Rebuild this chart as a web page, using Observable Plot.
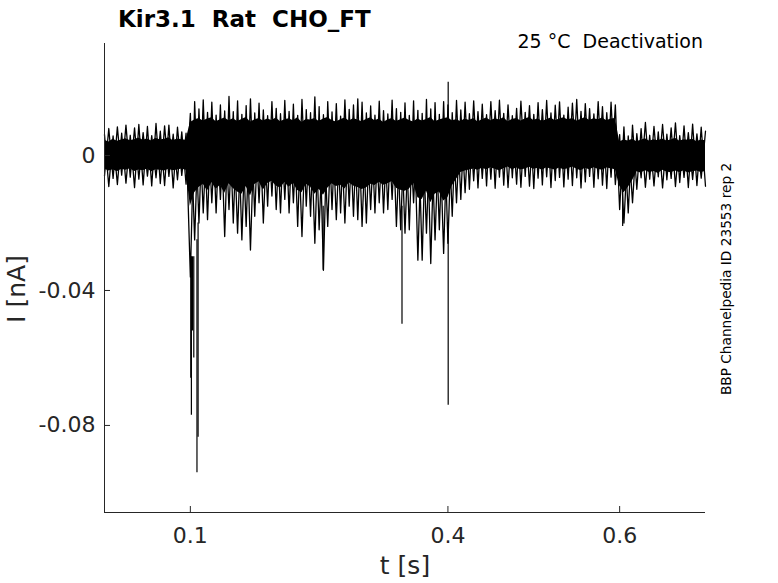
<!DOCTYPE html>
<html><head><meta charset="utf-8">
<script src="https://cdn.jsdelivr.net/npm/d3@7"></script>
<script src="https://cdn.jsdelivr.net/npm/@observablehq/plot@0.6"></script>
<style>
body{margin:0;background:#fff}
#chart{width:778px;height:583px}
text{white-space:pre}
</style>
</head><body><div id="chart"></div>
<script>
// sample times (s)
const t = [0,0.005,0.01,0.015,0.02,0.025,0.03,0.035,0.04,0.045,
0.05,0.055,0.06,0.065,0.07,0.075,0.08,0.085,0.09,0.095,
0.1,0.105,0.11,0.115,0.12,0.125,0.13,0.135,0.14,0.145,
0.15,0.155,0.16,0.165,0.17,0.175,0.18,0.185,0.19,0.195,
0.2,0.205,0.21,0.215,0.22,0.225,0.23,0.235,0.24,0.245,
0.25,0.255,0.26,0.265,0.27,0.275,0.28,0.285,0.29,0.295,
0.3,0.305,0.31,0.315,0.32,0.325,0.33,0.335,0.34,0.345,
0.35,0.355,0.36,0.365,0.37,0.375,0.38,0.385,0.39,0.395,
0.4,0.405,0.41,0.415,0.42,0.425,0.43,0.435,0.44,0.445,
0.45,0.455,0.46,0.465,0.47,0.475,0.48,0.485,0.49,0.495,
0.5,0.505,0.51,0.515,0.52,0.525,0.53,0.535,0.54,0.545,
0.55,0.555,0.56,0.565,0.57,0.575,0.58,0.585,0.59,0.595,
0.6,0.605,0.61,0.615,0.62,0.625,0.63,0.635,0.64,0.645,
0.65,0.655,0.66,0.665,0.67,0.675,0.68,0.685,0.69,0.695,
0.7];
// dense core of the overlaid sweeps (nA)
const hi = [0.0045,0.0040,0.0048,0.0042,0.0046,0.0050,0.0044,0.0047,0.0052,0.0045,
0.0049,0.0043,0.0051,0.0046,0.0048,0.0053,0.0044,0.0049,0.0047,0.0045,
0.0098,0.0105,0.0110,0.0102,0.0108,0.0112,0.0100,0.0106,0.0111,0.0103,
0.0109,0.0101,0.0107,0.0113,0.0099,0.0105,0.0110,0.0102,0.0108,0.0104,
0.0111,0.0100,0.0106,0.0109,0.0103,0.0112,0.0098,0.0107,0.0105,0.0110,
0.0101,0.0108,0.0113,0.0104,0.0099,0.0106,0.0111,0.0102,0.0109,0.0105,
0.0100,0.0107,0.0112,0.0103,0.0108,0.0098,0.0105,0.0110,0.0101,0.0106,
0.0111,0.0104,0.0099,0.0108,0.0102,0.0107,0.0113,0.0100,0.0105,0.0109,
0.0112,0.0103,0.0106,0.0101,0.0108,0.0104,0.0110,0.0099,0.0106,0.0111,
0.0103,0.0109,0.0105,0.0112,0.0100,0.0107,0.0110,0.0102,0.0108,0.0113,
0.0104,0.0109,0.0101,0.0106,0.0111,0.0103,0.0108,0.0112,0.0105,0.0110,
0.0102,0.0107,0.0113,0.0104,0.0109,0.0106,0.0111,0.0103,0.0108,0.0110,
0.0040,0.0046,0.0043,0.0048,0.0041,0.0045,0.0050,0.0042,0.0047,0.0044,
0.0049,0.0043,0.0046,0.0051,0.0042,0.0047,0.0045,0.0048,0.0041,0.0046,
0.0044];
const lo = [-0.0040,-0.0046,-0.0042,-0.0048,-0.0041,-0.0044,-0.0039,-0.0047,-0.0043,-0.0045,
-0.0040,-0.0048,-0.0042,-0.0044,-0.0046,-0.0041,-0.0045,-0.0043,-0.0040,-0.0044,
-0.0150,-0.0110,-0.0095,-0.0085,-0.0105,-0.0080,-0.0100,-0.0088,-0.0112,-0.0084,
-0.0098,-0.0108,-0.0115,-0.0092,-0.0120,-0.0086,-0.0078,-0.0102,-0.0083,-0.0076,
-0.0090,-0.0096,-0.0080,-0.0094,-0.0082,-0.0104,-0.0110,-0.0085,-0.0093,-0.0115,
-0.0100,-0.0118,-0.0097,-0.0084,-0.0092,-0.0088,-0.0099,-0.0081,-0.0090,-0.0095,
-0.0101,-0.0096,-0.0085,-0.0089,-0.0079,-0.0088,-0.0084,-0.0077,-0.0097,-0.0103,
-0.0106,-0.0100,-0.0082,-0.0125,-0.0130,-0.0105,-0.0140,-0.0115,-0.0108,-0.0135,
-0.0125,-0.0090,-0.0070,-0.0050,-0.0046,-0.0043,-0.0040,-0.0044,-0.0038,-0.0042,
-0.0036,-0.0041,-0.0045,-0.0039,-0.0034,-0.0042,-0.0037,-0.0043,-0.0040,-0.0035,
-0.0041,-0.0038,-0.0044,-0.0036,-0.0040,-0.0043,-0.0037,-0.0042,-0.0039,-0.0034,
-0.0040,-0.0045,-0.0038,-0.0042,-0.0036,-0.0041,-0.0044,-0.0037,-0.0039,-0.0042,
-0.0090,-0.0110,-0.0095,-0.0075,-0.0048,-0.0052,-0.0045,-0.0050,-0.0047,-0.0053,
-0.0044,-0.0049,-0.0051,-0.0046,-0.0050,-0.0045,-0.0052,-0.0048,-0.0046,-0.0050,
-0.0047];
// noise excursions above / below the core (nA)
const peak = [0.0062,0.0080,0.0058,0.0085,0.0066,0.0090,0.0060,0.0082,0.0092,0.0068,
0.0086,0.0059,0.0095,0.0072,0.0088,0.0090,0.0063,0.0084,0.0070,0.0066,
0.0125,0.0160,0.0138,0.0165,0.0128,0.0158,0.0120,0.0150,0.0132,0.0175,
0.0130,0.0162,0.0122,0.0148,0.0168,0.0126,0.0155,0.0135,0.0118,0.0160,
0.0140,0.0124,0.0163,0.0131,0.0152,0.0119,0.0166,0.0136,0.0127,0.0174,
0.0145,0.0121,0.0160,0.0129,0.0154,0.0117,0.0165,0.0137,0.0150,0.0168,
0.0158,0.0126,0.0147,0.0120,0.0161,0.0133,0.0123,0.0164,0.0139,0.0128,
0.0156,0.0119,0.0162,0.0134,0.0125,0.0166,0.0138,0.0157,0.0122,0.0160,
0.0150,0.0127,0.0163,0.0135,0.0158,0.0124,0.0162,0.0130,0.0152,0.0121,
0.0160,0.0133,0.0164,0.0125,0.0150,0.0118,0.0140,0.0161,0.0128,0.0148,
0.0122,0.0157,0.0136,0.0163,0.0126,0.0149,0.0159,0.0120,0.0143,0.0155,
0.0166,0.0131,0.0154,0.0139,0.0123,0.0160,0.0145,0.0127,0.0158,0.0150,
0.0062,0.0085,0.0058,0.0090,0.0065,0.0080,0.0098,0.0060,0.0086,0.0070,
0.0092,0.0063,0.0082,0.0097,0.0059,0.0088,0.0068,0.0093,0.0064,0.0084,
0.0072];
const dip = [-0.0060,-0.0092,-0.0068,-0.0086,-0.0058,-0.0082,-0.0064,-0.0095,-0.0070,-0.0087,
-0.0061,-0.0090,-0.0066,-0.0083,-0.0089,-0.0062,-0.0096,-0.0072,-0.0059,-0.0085,
-0.0360,-0.0250,-0.0200,-0.0170,-0.0190,-0.0140,-0.0170,-0.0130,-0.0240,-0.0160,
-0.0200,-0.0230,-0.0250,-0.0210,-0.0280,-0.0180,-0.0140,-0.0200,-0.0150,-0.0120,
-0.0160,-0.0170,-0.0130,-0.0170,-0.0140,-0.0210,-0.0240,-0.0150,-0.0180,-0.0260,
-0.0220,-0.0340,-0.0210,-0.0160,-0.0190,-0.0170,-0.0200,-0.0150,-0.0180,-0.0190,
-0.0210,-0.0200,-0.0160,-0.0170,-0.0140,-0.0170,-0.0160,-0.0130,-0.0210,-0.0220,
-0.0230,-0.0220,-0.0140,-0.0310,-0.0310,-0.0230,-0.0320,-0.0250,-0.0220,-0.0290,
-0.0260,-0.0180,-0.0140,-0.0130,-0.0110,-0.0100,-0.0075,-0.0096,-0.0068,-0.0090,
-0.0070,-0.0097,-0.0064,-0.0088,-0.0095,-0.0066,-0.0085,-0.0094,-0.0062,-0.0091,
-0.0098,-0.0067,-0.0087,-0.0063,-0.0095,-0.0074,-0.0065,-0.0093,-0.0070,-0.0089,
-0.0066,-0.0096,-0.0078,-0.0062,-0.0094,-0.0069,-0.0088,-0.0098,-0.0064,-0.0086,
-0.0160,-0.0200,-0.0170,-0.0140,-0.0100,-0.0066,-0.0094,-0.0070,-0.0090,-0.0063,
-0.0096,-0.0072,-0.0068,-0.0092,-0.0080,-0.0065,-0.0095,-0.0071,-0.0089,-0.0067,
-0.0091];
// isolated large transients
const spikeT    = [0.1005, 0.1012, 0.1025, 0.1040, 0.1077, 0.1090, 0.2547, 0.3465, 0.4003, 0.4003, 0.6035];
const spikeFrom = [-0.030, -0.030, -0.030, -0.030, -0.025, -0.020, -0.015, -0.015, -0.020, 0.010, -0.008];
const spikeTo   = [-0.066, -0.077, -0.052, -0.060, -0.094, -0.0835, -0.034, -0.050, -0.074, 0.0217, -0.021];

const xTicks = [0.1, 0.4, 0.6];
const xTickLabels = ["0.1", "0.4", "0.6"];
const yTicks = [0, -0.04, -0.08];
const yTickLabels = ["0", "-0.04", "-0.08"];
const xDomain = [0, 0.7];
const yDomain = [-0.1058, 0.0332];

const band = t.map((d, i) => ({t: d, hi: hi[i], lo: lo[i]}));
// two overlaid sweeps alternating between the upper and lower excursions
const zig = [];
t.forEach((d, i) => {
  zig.push({sweep: "a", t: d, v: i % 2 === 0 ? peak[i] : dip[i]});
  zig.push({sweep: "b", t: d, v: i % 2 === 0 ? dip[i] : peak[i]});
});
const spikes = spikeT.map((d, i) => ({t: d, from: spikeFrom[i], to: spikeTo[i]}));

const chart = Plot.plot({
  width: 778, height: 583,
  marginLeft: 104, marginRight: 73, marginTop: 43, marginBottom: 71,
  style: {fontFamily: "DejaVu Sans", background: "white", color: "#262626", overflow: "visible"},
  x: {domain: xDomain},
  y: {domain: yDomain},
  marks: [
    Plot.areaY(band, {x: "t", y1: "lo", y2: "hi", fill: "black"}),
    Plot.line(zig, {x: "t", y: "v", z: "sweep", stroke: "black", strokeWidth: 1.3}),
    Plot.ruleX(spikes, {x: "t", y1: "from", y2: "to", stroke: "black", strokeWidth: 1.2}),
    Plot.ruleX([xDomain[0]], {stroke: "#262626", strokeWidth: 1}),
    Plot.ruleY([yDomain[0]], {stroke: "#262626", strokeWidth: 1}),
    Plot.axisX(xTicks, {anchor: "bottom", tickSize: -6, tickPadding: 21, fontSize: 22, label: null,
      tickFormat: d => xTickLabels[xTicks.indexOf(d)]}),
    Plot.axisY(yTicks, {anchor: "left", tickSize: -6, tickPadding: 15, fontSize: 22, label: null,
      tickFormat: d => yTickLabels[yTicks.indexOf(d)]})
  ]
});
document.getElementById("chart").appendChild(chart);

const svg = d3.select(chart);
svg.append("text").attr("x", 118).attr("y", 27).attr("text-anchor", "start").attr("font-family", "DejaVu Sans")
  .attr("font-weight", "bold").attr("font-size", 23).attr("fill", "black")
  .text("Kir3.1  Rat  CHO_FT");
svg.append("text").attr("x", 703).attr("y", 48).attr("text-anchor", "end")
  .attr("font-family", "DejaVu Sans").attr("font-size", 19).attr("fill", "black")
  .text("25 °C  Deactivation");
svg.append("text").attr("transform", "translate(731,279) rotate(-90)").attr("text-anchor", "middle")
  .attr("font-family", "DejaVu Sans").attr("font-size", 13.7).attr("fill", "black")
  .text("BBP Channelpedia ID 23553 rep 2");
svg.append("text").attr("transform", "translate(25,289) rotate(-90)").attr("text-anchor", "middle")
  .attr("font-family", "DejaVu Sans").attr("font-size", 25).attr("fill", "#262626")
  .text("I [nA]");
svg.append("text").attr("x", 405).attr("y", 574).attr("text-anchor", "middle")
  .attr("font-family", "DejaVu Sans").attr("font-size", 25).attr("fill", "#262626")
  .text("t [s]");
</script>
</body></html>
